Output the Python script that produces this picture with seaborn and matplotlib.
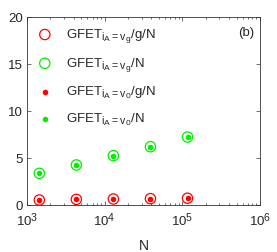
import matplotlib
matplotlib.use('Agg')
import matplotlib.pyplot as plt
import matplotlib._mathtext as mathtext_internal
import seaborn as sns
import numpy as np

# data
N = [1440, 4320, 12960, 38880, 116640]
gfet_vg_g = [0.53, 0.60, 0.64, 0.68, 0.72]
gfet_vg = [3.37, 4.26, 5.25, 6.20, 7.23]
gfet_v0_g = [0.53, 0.60, 0.64, 0.68, 0.72]
gfet_v0 = [3.37, 4.26, 5.25, 6.20, 7.23]

labels = [r'GFET$_{\mathrm{i_A=v_g}}$/g/N', r'GFET$_{\mathrm{i_A=v_g}}$/N',
          r'GFET$_{\mathrm{i_A=v_0}}$/g/N', r'GFET$_{\mathrm{i_A=v_0}}$/N']

sns.set_theme(style="ticks")
plt.rcParams['font.family'] = ['Liberation Sans', 'DejaVu Sans']
plt.rcParams['mathtext.fontset'] = 'custom'
plt.rcParams['mathtext.rm'] = 'Liberation Sans'
plt.rcParams['mathtext.it'] = 'Liberation Sans:italic'
# subscripts in the original are less shrunk than mathtext default
mathtext_internal.SHRINK_FACTOR = 0.8

red = '#ff0000'
green = '#00ee00'

fig = plt.figure(figsize=(2.77, 2.52), dpi=100)
ax = fig.add_axes([0.0975, 0.1865, 0.841, 0.746])

sns.scatterplot(x=N, y=gfet_vg_g, ax=ax, marker='o', s=55, facecolor='none',
                edgecolor=red, linewidth=0.9, label=labels[0])
sns.scatterplot(x=N, y=gfet_vg, ax=ax, marker='o', s=55, facecolor='none',
                edgecolor=green, linewidth=0.9, label=labels[1])
sns.scatterplot(x=N, y=gfet_v0_g, ax=ax, marker='o', s=16, color=red,
                edgecolor=red, linewidth=0, label=labels[2])
sns.scatterplot(x=N, y=gfet_v0, ax=ax, marker='o', s=16, color=green,
                edgecolor=green, linewidth=0, label=labels[3])

ax.set_xscale('log')
ax.set_xlim(1e3, 1e6)
ax.set_ylim(0, 20)
ax.set_yticks([0, 5, 10, 15, 20])
ax.set_xlabel('N', fontsize=10, labelpad=7)
ax.tick_params(which='both', direction='in', top=True, right=True, labelsize=9.5,
               width=0.5, color='#333333')
ax.tick_params(axis='y', pad=3)
ax.tick_params(axis='x', pad=5)
ax.tick_params(which='major', length=3)
ax.tick_params(which='minor', length=1.5)
for sp in ax.spines.values():
    sp.set_linewidth(0.6)
    sp.set_color('#333333')

ax.text(0.975, 0.915, '(b)', transform=ax.transAxes, ha='right', va='center', fontsize=9.5)

ax.legend(loc='upper left', frameon=False, fontsize=9.5, labelspacing=0.75,
          handlelength=1.2, handletextpad=1.0, borderaxespad=0.0, borderpad=0.75,
          bbox_to_anchor=(0.0, 1.0))

fig.savefig('out.png', dpi=100)
plt.close(fig)
